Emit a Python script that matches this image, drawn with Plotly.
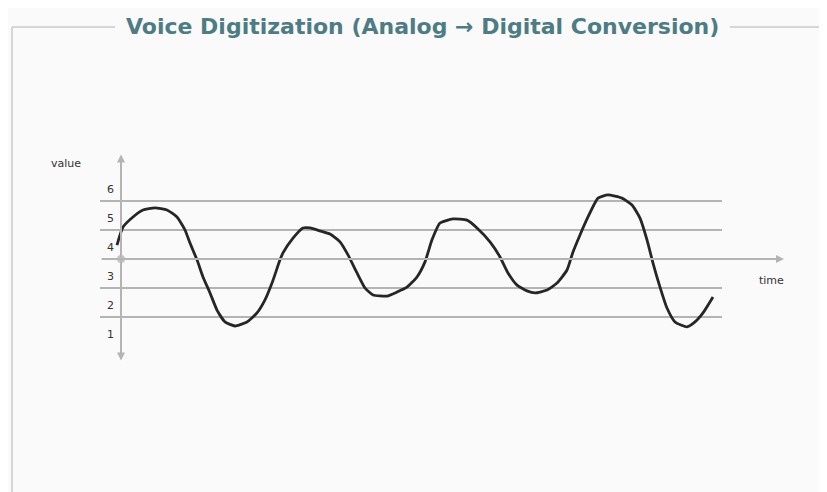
import plotly.graph_objects as go

# analog voice waveform (time in arbitrary units, value in levels)
time = [-0.4, 0.2, 1.2, 2.2, 3.4, 4.6, 5.6, 6.4, 6.9, 7.6, 8.2, 8.9, 9.6, 10.4,
        11.4, 12.6, 13.6, 14.4, 15.1, 15.9, 16.2, 17.2, 18.2, 18.9, 19.9, 20.9,
        21.9, 22.7, 23.6, 24.4, 25.2, 26.6, 27.6, 28.6, 29.6, 30.4, 31.1, 31.9,
        33.2, 34.6, 35.6, 36.9, 37.9, 38.7, 39.6, 40.6, 41.4, 42.6, 43.6, 44.6,
        45.2, 45.9, 46.7, 47.7, 48.7, 50.1, 51.1, 51.9, 52.6, 53.2, 53.9, 54.6,
        55.4, 56.6, 57.4, 58.2, 59.2]
value = [3.98, 4.60, 4.95, 5.19, 5.26, 5.19, 4.95, 4.50, 4.05, 3.47, 2.88, 2.33,
         1.74, 1.33, 1.19, 1.33, 1.64, 2.09, 2.67, 3.47, 3.71, 4.22, 4.57, 4.57,
         4.47, 4.36, 4.09, 3.64, 3.02, 2.50, 2.26, 2.22, 2.36, 2.53, 2.88, 3.40,
         4.16, 4.74, 4.88, 4.84, 4.57, 4.09, 3.57, 3.02, 2.60, 2.40, 2.33, 2.43,
         2.67, 3.12, 3.74, 4.33, 4.95, 5.60, 5.71, 5.60, 5.36, 4.91, 4.16, 3.36,
         2.53, 1.81, 1.33, 1.16, 1.33, 1.64, 2.19]

level_lines = [1.5, 2.5, 4.5, 5.5]
tick_vals = [1, 2, 3, 4, 5, 6]
tick_text = ["1", "2", "3", "4", "5", "6"]

title = "Voice Digitization (Analog \u2192 Digital Conversion)"
grey = "#b4b4b4"
frame = "#d6d6d6"
label_font = dict(size=11, color="#333333", family="DejaVu Sans")

W, H, OFF = 827, 492, 8  # page body margin shifts the figure by 8px


def px(x):
    return (x - OFF) / W


def py(y):
    return 1 - (y - OFF) / H


fig = go.Figure()

# quantization level lines
for lv in level_lines:
    fig.add_shape(type="line", x0=-2.1, x1=60.1, y0=lv, y1=lv,
                  line=dict(color=grey, width=2), layer="below")

# time axis with arrow
fig.add_annotation(x=66.3, y=3.5, ax=-2.1, ay=3.5, xref="x", yref="y",
                   axref="x", ayref="y", text="", showarrow=True,
                   arrowhead=2, arrowsize=0.8, arrowwidth=2, arrowcolor=grey)
# value axis, arrows both ends
fig.add_annotation(x=0, y=7.1, ax=0, ay=3.5, xref="x", yref="y",
                   axref="x", ayref="y", text="", showarrow=True,
                   arrowhead=2, arrowsize=0.8, arrowwidth=2, arrowcolor=grey)
fig.add_annotation(x=0, y=0.0, ax=0, ay=3.5, xref="x", yref="y",
                   axref="x", ayref="y", text="", showarrow=True,
                   arrowhead=2, arrowsize=0.8, arrowwidth=2, arrowcolor=grey)

fig.add_trace(go.Scatter(x=[0], y=[3.5], mode="markers",
                         marker=dict(color="#c4c4c4", size=8), hoverinfo="skip"))

fig.add_trace(go.Scatter(x=time, y=value, mode="lines",
                         line=dict(color="#262626", width=2.8, shape="spline",
                                   smoothing=0.5)))

for v, t in zip(tick_vals, tick_text):
    fig.add_annotation(x=-1.1, y=v - 0.1, text=t, showarrow=False, font=label_font)

fig.add_annotation(x=-5.5, y=6.8, text="value", showarrow=False, font=label_font)
fig.add_annotation(x=65.0, y=2.75, text="time", showarrow=False, font=label_font)

# slide frame and heading
fig.add_shape(type="line", xref="paper", yref="paper", x0=px(12), x1=px(12),
              y0=0, y1=py(27), line=dict(color=frame, width=2))
fig.add_shape(type="line", xref="paper", yref="paper", x0=px(12), x1=px(115),
              y0=py(27), y1=py(27), line=dict(color=frame, width=2))
fig.add_shape(type="line", xref="paper", yref="paper", x0=px(730), x1=1,
              y0=py(27), y1=py(27), line=dict(color=frame, width=2))
fig.add_annotation(xref="paper", yref="paper", x=px(422), y=py(27),
                   xanchor="center", yanchor="middle",
                   text="<b>" + title + "</b>", showarrow=False,
                   font=dict(size=22, color="#4d7c84", family="DejaVu Sans"))

# axes mapped so 1 time unit = 10px and 1 level = 29px
fig.update_xaxes(visible=False, range=[-11.3, 71.4])
fig.update_yaxes(visible=False, range=[-4.81, 12.155])
fig.update_layout(width=W, height=H, margin=dict(l=0, r=0, t=0, b=0),
                  paper_bgcolor="#fafafa", plot_bgcolor="#fafafa",
                  showlegend=False)

fig.write_html("out.html")
